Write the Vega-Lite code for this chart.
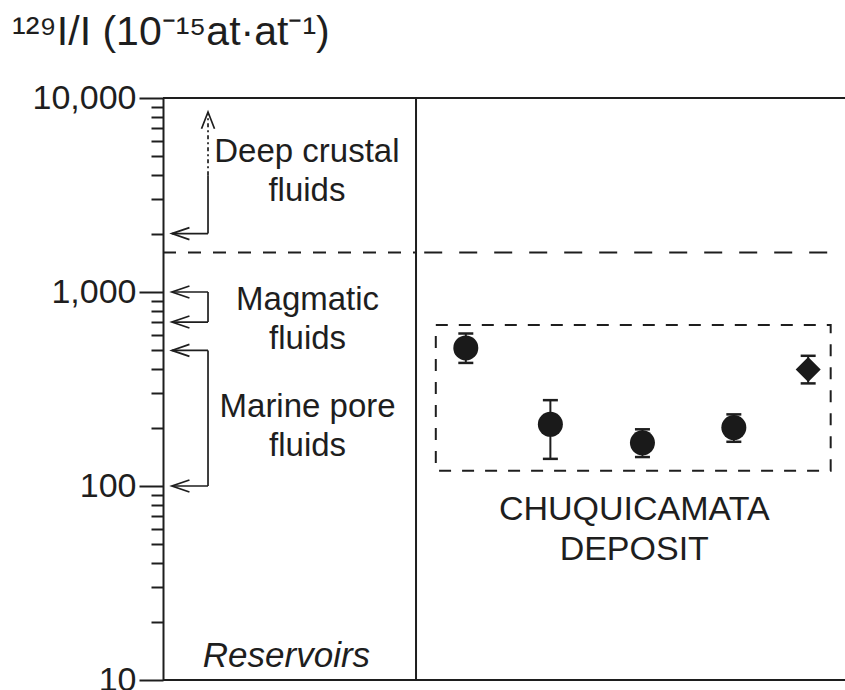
{
  "$schema": "https://vega.github.io/schema/vega-lite/v6.json",
  "width": 682,
  "height": 582,
  "autosize": {"type": "none"},
  "padding": {"left": 163, "top": 98, "right": 0, "bottom": 10},
  "background": "white",
  "config": {
    "view": {"stroke": null},
    "font": "Liberation Sans",
    "text": {"font": "Liberation Sans", "color": "#1e1e1e"}
  },
  "title": {
    "text": "¹²⁹I/I (10⁻¹⁵at·at⁻¹)",
    "anchor": "start",
    "frame": "group",
    "dx": -151,
    "offset": 27,
    "font": "Liberation Sans",
    "fontSize": 41,
    "fontWeight": "normal",
    "color": "#1e1e1e"
  },
  "datasets": {
    "frame": [
      {"x": 0, "x2": 100, "y": 10000, "y2": 10000},
      {"x": 0, "x2": 100, "y": 10, "y2": 10},
      {"x": 37.1, "x2": 37.1, "y": 10, "y2": 10000}
    ],
    "shafts": [
      {"reservoir": "Deep crustal", "value": 2000},
      {"reservoir": "Magmatic", "value": 1000},
      {"reservoir": "Magmatic", "value": 700},
      {"reservoir": "Marine pore", "value": 500},
      {"reservoir": "Marine pore", "value": 100}
    ],
    "brackets": [
      {"reservoir": "Deep crustal", "lo": 2000, "hi": 4000},
      {"reservoir": "Magmatic", "lo": 700, "hi": 1000},
      {"reservoir": "Marine pore", "lo": 100, "hi": 500}
    ],
    "labels": [
      {"x": 21.1, "y": 4680, "label": ["Deep crustal", "fluids"]},
      {"x": 21.2, "y": 806, "label": ["Magmatic", "fluids"]},
      {"x": 21.2, "y": 225.6, "label": ["Marine pore", "fluids"]}
    ],
    "samples": [
      {"sample": "1", "kind": "circle", "pos": 44.4, "ratio": 515, "lo": 431, "hi": 611},
      {"sample": "2", "kind": "circle", "pos": 56.8, "ratio": 208, "lo": 138, "hi": 277},
      {"sample": "3", "kind": "circle", "pos": 70.3, "ratio": 167, "lo": 141, "hi": 196},
      {"sample": "4", "kind": "circle", "pos": 83.7, "ratio": 200, "lo": 169, "hi": 234},
      {"sample": "5", "kind": "diamond", "pos": 94.6, "ratio": 399, "lo": 338, "hi": 469}
    ]
  },
  "layer": [
    {
      "data": {"name": "frame"},
      "mark": {"type": "rule", "color": "#1e1e1e", "strokeWidth": 2},
      "encoding": {
        "x": {"field": "x", "type": "quantitative", "scale": {"domain": [0, 100], "nice": false, "zero": false}, "axis": null},
        "x2": {"field": "x2"},
        "y": {
          "field": "y", "type": "quantitative",
          "scale": {"type": "log", "domain": [10, 10000], "nice": false},
          "axis": {
            "orient": "left",
            "title": null,
            "values": [10, 100, 1000, 10000],
            "format": ",",
            "grid": false,
            "tickSize": 24,
            "tickWidth": 2,
            "tickColor": "#1e1e1e",
            "domainColor": "#1e1e1e",
            "domainWidth": 2,
            "labelFont": "Liberation Sans",
            "labelFontSize": 34,
            "labelColor": "#1e1e1e",
            "labelPadding": 3,
            "labelFlush": false,
            "labelOverlap": false
          }
        },
        "y2": {"field": "y2"}
      }
    },
    {
      "data": {"values": [{"level": 1600}]},
      "mark": {"type": "rule", "color": "#1e1e1e", "strokeWidth": 2, "strokeDash": [13, 12]},
      "encoding": {
        "x": {"datum": 0, "type": "quantitative"},
        "x2": {"datum": 37.1},
        "y": {"field": "level", "type": "quantitative", "axis": {
            "orient": "left",
            "title": null,
            "values": [20, 30, 40, 50, 60, 70, 80, 90, 200, 300, 400, 500, 600, 700, 800, 900, 2000, 3000, 4000, 5000, 6000, 7000, 8000, 9000],
            "labels": false,
            "grid": false,
            "domain": false,
            "tickSize": 12,
            "tickWidth": 2,
            "tickColor": "#1e1e1e"
          }}
      }
    },
    {
      "data": {"values": [{"level": 1600}]},
      "mark": {"type": "rule", "color": "#1e1e1e", "strokeWidth": 2, "strokeDash": [18, 17]},
      "encoding": {
        "x": {"datum": 38.3, "type": "quantitative"},
        "x2": {"datum": 98.1},
        "y": {"field": "level", "type": "quantitative", "axis": null}
      }
    },
    {
      "data": {"name": "shafts"},
      "mark": {"type": "rule", "color": "#1e1e1e", "strokeWidth": 1.7},
      "encoding": {
        "x": {"datum": 1.3, "type": "quantitative"},
        "x2": {"datum": 6.6},
        "y": {"field": "value", "type": "quantitative", "axis": null}
      }
    },
    {
      "data": {"name": "shafts"},
      "mark": {"type": "point", "shape": "M 2.93 -1 L 0 0 L 2.93 1", "size": 144, "filled": false, "color": "#1e1e1e", "strokeWidth": 1.7, "opacity": 1},
      "encoding": {
        "x": {"datum": 1.3, "type": "quantitative"},
        "y": {"field": "value", "type": "quantitative", "axis": null}
      }
    },
    {
      "data": {"name": "brackets"},
      "mark": {"type": "rule", "color": "#1e1e1e", "strokeWidth": 1.7},
      "encoding": {
        "x": {"datum": 6.6, "type": "quantitative"},
        "y": {"field": "lo", "type": "quantitative", "axis": null},
        "y2": {"field": "hi"}
      }
    },
    {
      "data": {"values": [{"lo": 4000, "hi": 8400}]},
      "mark": {"type": "rule", "color": "#1e1e1e", "strokeWidth": 1.7, "strokeDash": [4, 3, 2, 3]},
      "encoding": {
        "x": {"datum": 6.6, "type": "quantitative"},
        "y": {"field": "lo", "type": "quantitative", "axis": null},
        "y2": {"field": "hi"}
      }
    },
    {
      "data": {"values": [{"value": 8470}]},
      "mark": {"type": "point", "shape": "M -1 2.57 L 0 0 L 1 2.57", "size": 169, "filled": false, "color": "#1e1e1e", "strokeWidth": 1.7, "opacity": 1},
      "encoding": {
        "x": {"datum": 6.6, "type": "quantitative"},
        "y": {"field": "value", "type": "quantitative", "axis": null}
      }
    },
    {
      "data": {"name": "labels"},
      "mark": {"type": "text", "fontSize": 33, "lineHeight": 39, "align": "center", "baseline": "alphabetic"},
      "encoding": {
        "x": {"field": "x", "type": "quantitative"},
        "y": {"field": "y", "type": "quantitative", "axis": null},
        "text": {"field": "label"}
      }
    },
    {
      "data": {"values": [{"x": 18.1, "y": 11.7, "label": "Reservoirs"}]},
      "mark": {"type": "text", "fontSize": 35, "fontStyle": "italic", "align": "center", "baseline": "alphabetic"},
      "encoding": {
        "x": {"field": "x", "type": "quantitative"},
        "y": {"field": "y", "type": "quantitative", "axis": null},
        "text": {"field": "label"}
      }
    },
    {
      "data": {"values": [{"x": 69.1, "y": 66.7, "label": ["CHUQUICAMATA", "DEPOSIT"]}]},
      "mark": {"type": "text", "fontSize": 34, "lineHeight": 40, "align": "center", "baseline": "alphabetic"},
      "encoding": {
        "x": {"field": "x", "type": "quantitative"},
        "y": {"field": "y", "type": "quantitative", "axis": null},
        "text": {"field": "label"}
      }
    },
    {
      "data": {"values": [{"x": 40.0, "x2": 97.9, "y": 120, "y2": 675}]},
      "mark": {"type": "rect", "fill": null, "fillOpacity": 0, "stroke": "#1e1e1e", "strokeWidth": 2, "strokeDash": [12, 11]},
      "encoding": {
        "x": {"field": "x", "type": "quantitative"},
        "x2": {"field": "x2"},
        "y": {"field": "y", "type": "quantitative", "axis": null},
        "y2": {"field": "y2"}
      }
    },
    {
      "data": {"name": "samples"},
      "layer": [
        {
          "mark": {"type": "rule", "color": "#1e1e1e", "strokeWidth": 2},
          "encoding": {
            "x": {"field": "pos", "type": "quantitative"},
            "y": {"field": "lo", "type": "quantitative", "axis": null},
            "y2": {"field": "hi"}
          }
        },
        {
          "mark": {"type": "tick", "orient": "horizontal", "color": "#1e1e1e", "size": 15, "thickness": 2.5, "opacity": 1},
          "encoding": {
            "x": {"field": "pos", "type": "quantitative"},
            "y": {"field": "lo", "type": "quantitative", "axis": null}
          }
        },
        {
          "mark": {"type": "tick", "orient": "horizontal", "color": "#1e1e1e", "size": 15, "thickness": 2.5, "opacity": 1},
          "encoding": {
            "x": {"field": "pos", "type": "quantitative"},
            "y": {"field": "hi", "type": "quantitative", "axis": null}
          }
        },
        {
          "mark": {"type": "point", "filled": true, "size": 625, "color": "#1a1a1a", "opacity": 1},
          "encoding": {
            "x": {"field": "pos", "type": "quantitative"},
            "y": {"field": "ratio", "type": "quantitative", "axis": null},
            "shape": {"field": "kind", "type": "nominal", "scale": {"domain": ["circle", "diamond"], "range": ["circle", "diamond"]}, "legend": null}
          }
        }
      ]
    }
  ],
  "resolve": {"axis": {"y": "independent"}}
}
